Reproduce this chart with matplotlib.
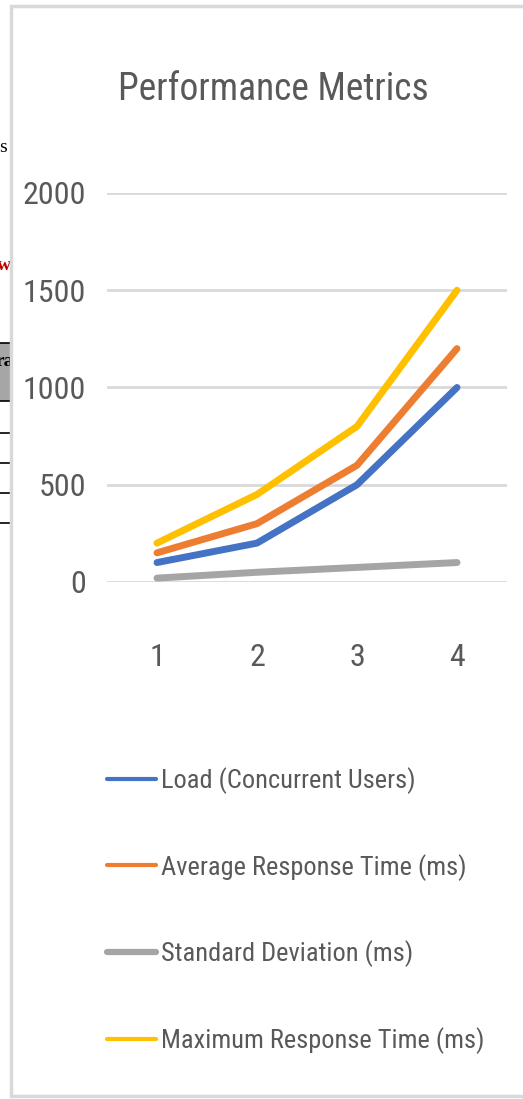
import matplotlib
matplotlib.use("Agg")
import matplotlib.pyplot as plt
from matplotlib import font_manager as fm
from matplotlib.patches import Rectangle
from matplotlib.lines import Line2D

# pick a narrow sans face if one is around
available = {f.name for f in fm.fontManager.ttflist}
narrow = None
for name in ['Liberation Sans Narrow', 'Roboto Condensed', 'Open Sans Condensed',
             'DejaVu Sans Condensed', 'Noto Sans Condensed']:
    if name in available:
        narrow = name
        break
stretch = 'normal'
if narrow is None:
    for f in fm.fontManager.ttflist:
        if 'condensed' in str(f.stretch) and f.weight in (400, 'normal', 'regular'):
            narrow, stretch = f.name, f.stretch
            break
if narrow is None:
    narrow = 'Liberation Sans'
plt.rcParams['font.family'] = [narrow, 'DejaVu Sans']
plt.rcParams['font.stretch'] = stretch

# data
runs = [1, 2, 3, 4]
load_users = [100, 200, 500, 1000]
avg_response = [150, 300, 600, 1200]
std_dev = [20, 50, 75, 100]
max_response = [200, 450, 800, 1500]
series_names = ['Load (Concurrent Users)', 'Average Response Time (ms)',
                'Standard Deviation (ms)', 'Maximum Response Time (ms)']
y_ticks = [0, 500, 1000, 1500, 2000]

colors = ['#4472C4', '#ED7D31', '#A5A5A5', '#FFC000']
text_col = '#595959'
grid_col = '#D9D9D9'

W, H = 523, 1099
fig = plt.figure(figsize=(W / 100, H / 100), dpi=100)
fig.patch.set_facecolor('white')


def px(x, y):
    # pixel position (from top-left) -> figure fraction
    return x / W, 1 - y / H


# bits of the page sitting behind the chart, on the left edge
fig.text(*px(-1, 148), 's', fontsize=14, family='Liberation Serif', color='black',
         va='center', ha='left', zorder=1)
fig.text(*px(-3, 266), 'w', fontsize=14, family='Liberation Serif', color='#C00000',
         fontweight='bold', va='center', ha='left', zorder=1)
fig.add_artist(Rectangle(px(0, 401), 12 / W, 58 / H, transform=fig.transFigure,
                         facecolor='#A6A6A6', edgecolor='none', zorder=1))
fig.text(*px(-4, 362), 'ra', fontsize=14, family='Liberation Serif', color='black',
         fontweight='bold', va='center', ha='left', zorder=1)
for yy in [343, 401, 433, 463, 493, 523]:
    fig.add_artist(Line2D([0, 12 / W], [1 - yy / H] * 2, transform=fig.transFigure,
                          color='black', lw=1.2, zorder=1))

# chart area background and border (runs past the right edge)
fig.add_artist(Rectangle(px(11, 1096), W / W, 1090 / H, transform=fig.transFigure,
                         facecolor='white', edgecolor=grid_col, lw=2.5, zorder=2))

ax = fig.add_axes([107 / W, 1 - 582 / H, 400 / W, 389 / H])
ax.set_zorder(5)
ax.set_facecolor('white')

for vals, name, c in zip([load_users, avg_response, std_dev, max_response], series_names, colors):
    ax.plot(runs, vals, color=c, lw=5, label=name,
            solid_capstyle='round', solid_joinstyle='round')

ax.set_xlim(0.5, 4.5)
ax.set_ylim(0, 2000)
ax.set_xticks(runs)
ax.set_yticks(y_ticks)
ax.yaxis.grid(True, color=grid_col, lw=2)
ax.set_axisbelow(True)
for s in ax.spines.values():
    s.set_visible(False)
ax.tick_params(axis='both', length=0, labelsize=23, labelcolor=text_col)
ax.tick_params(axis='x', pad=44)
ax.tick_params(axis='y', pad=15)

ax.set_title('Performance Metrics', fontsize=27, color=text_col, pad=67, x=0.415)

leg = ax.legend(loc='upper left', bbox_to_anchor=(107 / W, 1 - 767 / H),
                bbox_transform=fig.transFigure, frameon=False, fontsize=19,
                handlelength=1.85, handletextpad=0.2, labelspacing=2.27,
                borderaxespad=0, borderpad=0, labelcolor=text_col)
for h in leg.get_lines():
    h.set_linewidth(3)
leg.get_lines()[2].set_linewidth(4.5)

fig.savefig('out.png', dpi=100, facecolor='white')
